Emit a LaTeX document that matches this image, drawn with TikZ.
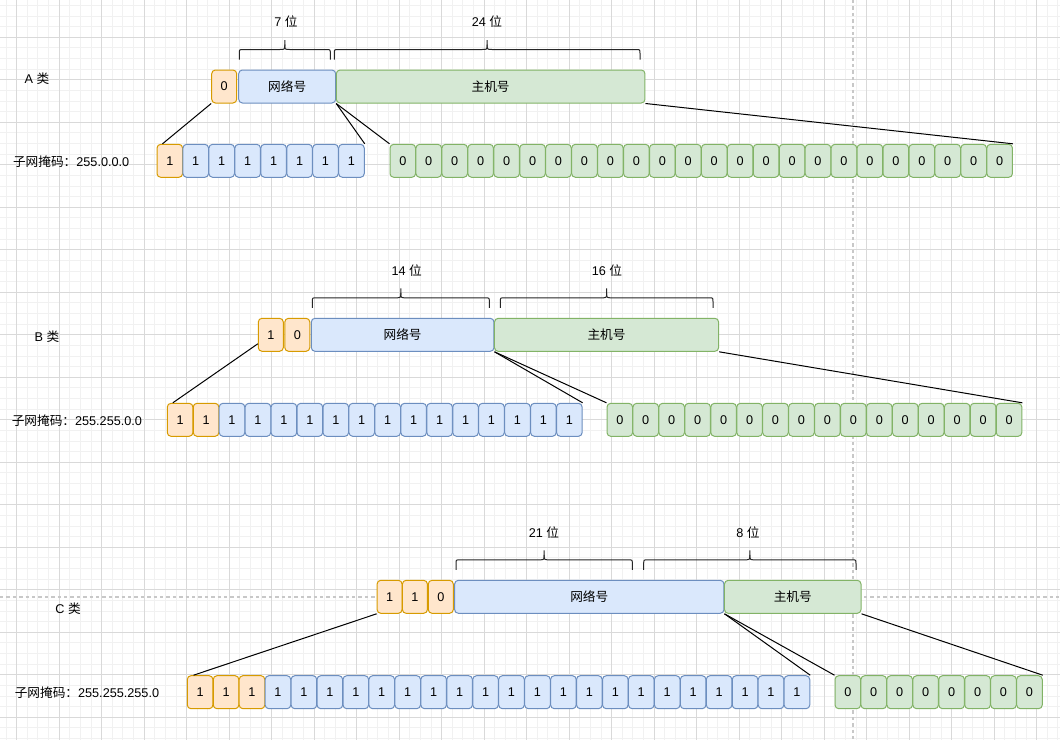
\documentclass[tikz,border=0pt]{standalone}
\usepackage{fontspec}
\setmainfont{Liberation Sans}
\newfontfamily\cjk{Noto Sans CJK SC}
\usetikzlibrary{calc}
\definecolor{orF}{HTML}{FFE6CC}\definecolor{orD}{HTML}{D79B00}
\definecolor{blF}{HTML}{DAE8FC}\definecolor{blD}{HTML}{6C8EBF}
\definecolor{grF}{HTML}{D5E8D4}\definecolor{grD}{HTML}{82B366}
\definecolor{gmaj}{HTML}{D9D9D9}\definecolor{gmin}{HTML}{F1F1F1}
\definecolor{guide}{HTML}{C8C8C8}
\newcommand\mybrace[3]{%
  \pgfmathsetmacro\bxm{(#1+#2)/2}%
  \draw[brc] (#1,#3+10) -- (#1,#3+4) .. controls (#1,#3) .. (#1+4,#3) -- (\bxm-5,#3) .. controls (\bxm,#3) .. (\bxm,#3-5) -- (\bxm,#3-9.5);
  \draw[brc] (#2,#3+10) -- (#2,#3+4) .. controls (#2,#3) .. (#2-4,#3) -- (\bxm+5,#3) .. controls (\bxm,#3) .. (\bxm,#3-5);
}
\begin{document}
\begin{tikzpicture}[x=0.75pt,y=-0.75pt,
  font=\fontsize{9.5pt}{11pt}\selectfont,
  bx/.style={draw, line width=0.75pt, rounded corners=2.8pt, inner sep=0pt, minimum height=24.75pt},
  obx/.style={bx, fill=orF, draw=orD},
  bbx/.style={bx, fill=blF, draw=blD},
  gbx/.style={bx, fill=grF, draw=grD},
  cellw/.style={minimum width=19.2pt},
  smallw/.style={minimum width=18.75pt},
  conn/.style={draw=black, line width=0.75pt},
  brc/.style={draw=black!85, line width=0.75pt},
  gminor/.style={draw=gmin, line width=0.75pt},
  gmajor/.style={draw=gmaj, line width=0.75pt},
  guideline/.style={draw=guide, line width=1.2pt, dash pattern=on 2.6pt off 2.2pt},
  lbl/.style={inner sep=0pt},
]
\useasboundingbox (0,0) rectangle (1060,740);
\fill[white] (0,0) rectangle (1060,740);
% grid
\foreach \i in {0,...,99} \draw[gminor] ({6.1+\i*10.625},0) -- ++(0,740);
\foreach \i in {0,...,69} \draw[gminor] (0,{5.4+\i*10.625}) -- ++(1060,0);
\foreach \i in {0,...,24} \draw[gmajor] ({16.7+\i*42.5},0) -- ++(0,740);
\foreach \i in {0,...,16} \draw[gmajor] (0,{37.3+\i*42.5}) -- ++(1060,0);
% guides
\draw[guideline] (853,0) -- (853,740);
\draw[guideline] (0,597) -- (1060,597);

% ===== A =====
\node[lbl] (tA) at (37,79) {A {\cjk 类}};
\node[lbl] (tA7) at (286,22) {7 {\cjk 位}};
\node[lbl] (tA24) at (487,22) {24 {\cjk 位}};
\mybrace{239.3}{330.3}{49.5}
\mybrace{334.3}{640}{49.5}
\node[obx, smallw] (A0) at (224.2,86.5) {0};
\node[bbx, minimum width=72.75pt] (Anet) at (287.2,86.5) {\cjk 网络号};
\node[gbx, minimum width=231.5pt] (Ahost) at (490.65,86.5) {\cjk 主机号};
\node[lbl, anchor=west] (mA) at (12.8,161.3) {{\cjk 子网掩码：}255.0.0.0};
\node[obx, cellw] (a0) at (169.8,160.8) {1};
\foreach \i in {1,...,7} \node[bbx, cellw] (a\i) at ({169.8+\i*25.95},160.8) {1};
\foreach \j in {0,...,23} \node[gbx, cellw] (ah\j) at ({402.8+\j*25.95},160.8) {0};
\draw[conn] (A0.south west) -- ($(a0.north west)+(6,0)$);
\draw[conn] (Anet.south east) -- (a7.north east);
\draw[conn] (Anet.south east) -- (ah0.north west);
\draw[conn] (Ahost.south east) -- (ah23.north east);

% ===== B =====
\node[lbl] (tB) at (47,336.5) {B {\cjk 类}};
\node[lbl] (tB14) at (406.7,271) {14 {\cjk 位}};
\node[lbl] (tB16) at (607,271) {16 {\cjk 位}};
\mybrace{312.3}{489.3}{297.8}
\mybrace{500.3}{713}{297.8}
\node[obx, smallw] (B1) at (270.8,334.8) {1};
\node[obx, smallw] (B0) at (297.3,334.8) {0};
\node[bbx, minimum width=137pt] (Bnet) at (402.65,334.8) {\cjk 网络号};
\node[gbx, minimum width=168.1pt] (Bhost) at (606.55,334.8) {\cjk 主机号};
\node[lbl, anchor=west] (mB) at (11.5,420.3) {{\cjk 子网掩码：}255.255.0.0};
\foreach \i in {0,1} \node[obx, cellw] (b\i) at ({180.1+\i*25.95},419.8) {1};
\foreach \i in {2,...,15} \node[bbx, cellw] (b\i) at ({180.1+\i*25.95},419.8) {1};
\foreach \j in {0,...,15} \node[gbx, cellw] (bh\j) at ({619.8+\j*25.95},419.8) {0};
\draw[conn] ($(B1.south west)+(0,-8)$) -- ($(b0.north west)+(6,0)$);
\draw[conn] (Bnet.south east) -- (b15.north east);
\draw[conn] (Bnet.south east) -- (bh0.north west);
\draw[conn] (Bhost.south east) -- (bh15.north east);

% ===== C =====
\node[lbl] (tC) at (68,609) {C {\cjk 类}};
\node[lbl] (tC21) at (544,532.5) {21 {\cjk 位}};
\node[lbl] (tC8) at (748,532.5) {8 {\cjk 位}};
\mybrace{456}{632.3}{559.8}
\mybrace{643.7}{856}{559.8}
\node[obx, smallw] (C1a) at (389.6,596.8) {1};
\node[obx, smallw] (C1b) at (414.9,596.8) {1};
\node[obx, smallw] (C0) at (440.8,596.8) {0};
\node[bbx, minimum width=202pt] (Cnet) at (589.3,596.8) {\cjk 网络号};
\node[gbx, minimum width=102.4pt] (Chost) at (792.75,596.8) {\cjk 主机号};
\node[lbl, anchor=west] (mC) at (14.5,692.7) {{\cjk 子网掩码：}255.255.255.0};
\foreach \i in {0,1,2} \node[obx, cellw] (c\i) at ({200.1+\i*25.95},692.2) {1};
\foreach \i in {3,...,23} \node[bbx, cellw] (c\i) at ({200.1+\i*25.95},692.2) {1};
\foreach \j in {0,...,7} \node[gbx, cellw] (ch\j) at ({847.8+\j*25.95},692.2) {0};
\draw[conn] (C1a.south west) -- ($(c0.north west)+(6.7,0)$);
\draw[conn] (Cnet.south east) -- (c23.north east);
\draw[conn] (Cnet.south east) -- (ch0.north west);
\draw[conn] (Chost.south east) -- (ch7.north east);
\end{tikzpicture}
\end{document}
